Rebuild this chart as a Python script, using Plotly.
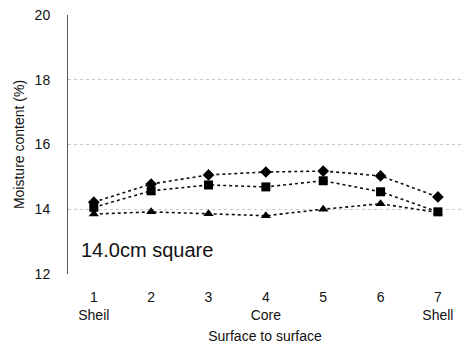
import plotly.graph_objects as go

positions = [1, 2, 3, 4, 5, 6, 7]
tick_labels = ["1<br>Sheil", "2", "3", "4<br>Core", "5", "6", "7<br>Shell"]
diamond_vals = [14.22, 14.78, 15.06, 15.15, 15.18, 15.03, 14.38]
square_vals = [14.06, 14.57, 14.75, 14.69, 14.88, 14.54, 13.92]
triangle_vals = [13.85, 13.92, 13.86, 13.80, 14.00, 14.17, 13.90]
y_ticks = [12, 14, 16, 18, 20]

fig = go.Figure()
for vals, sym in [(triangle_vals, "triangle-up"), (square_vals, "square"), (diamond_vals, "diamond")]:
    fig.add_trace(go.Scatter(
        x=positions, y=vals, mode="lines+markers",
        line=dict(color="#111", width=1.6, dash="dot"),
        marker=dict(symbol=sym, size=9, color="#000"),
        showlegend=False,
    ))

fig.add_annotation(x=0.75, y=12.75, xref="x", yref="y", text="14.0cm square",
                   showarrow=False, xanchor="left", yanchor="middle",
                   font=dict(size=20, color="#111", family="Liberation Sans, Arial"))

fig.update_layout(
    width=466, height=347,
    margin=dict(l=68, r=4, t=15, b=73),
    plot_bgcolor="white", paper_bgcolor="white",
    font=dict(family="Liberation Sans, Arial", size=14, color="#111"),
    xaxis=dict(range=[0.55, 7.42], tickvals=positions, ticktext=tick_labels,
               showgrid=False, zeroline=False, showline=False,
               ticks="outside", ticklen=10, tickcolor="rgba(0,0,0,0)",
               automargin=False,
               title=dict(text="Surface to surface", standoff=9, font=dict(size=14))),
    yaxis=dict(range=[12, 20], tickvals=y_ticks, showgrid=True,
               gridcolor="#c8c8c8", griddash="dot", gridwidth=1,
               zeroline=False, showline=True, linecolor="#555", linewidth=1,
               ticks="outside", ticklen=14, tickcolor="rgba(0,0,0,0)",
               automargin=False,
               title=dict(text="Moisture content (%)", standoff=6, font=dict(size=14))),
)

fig.write_html("out.html", config={"displayModeBar": False},
               post_script="document.body.style.margin='0px';")
